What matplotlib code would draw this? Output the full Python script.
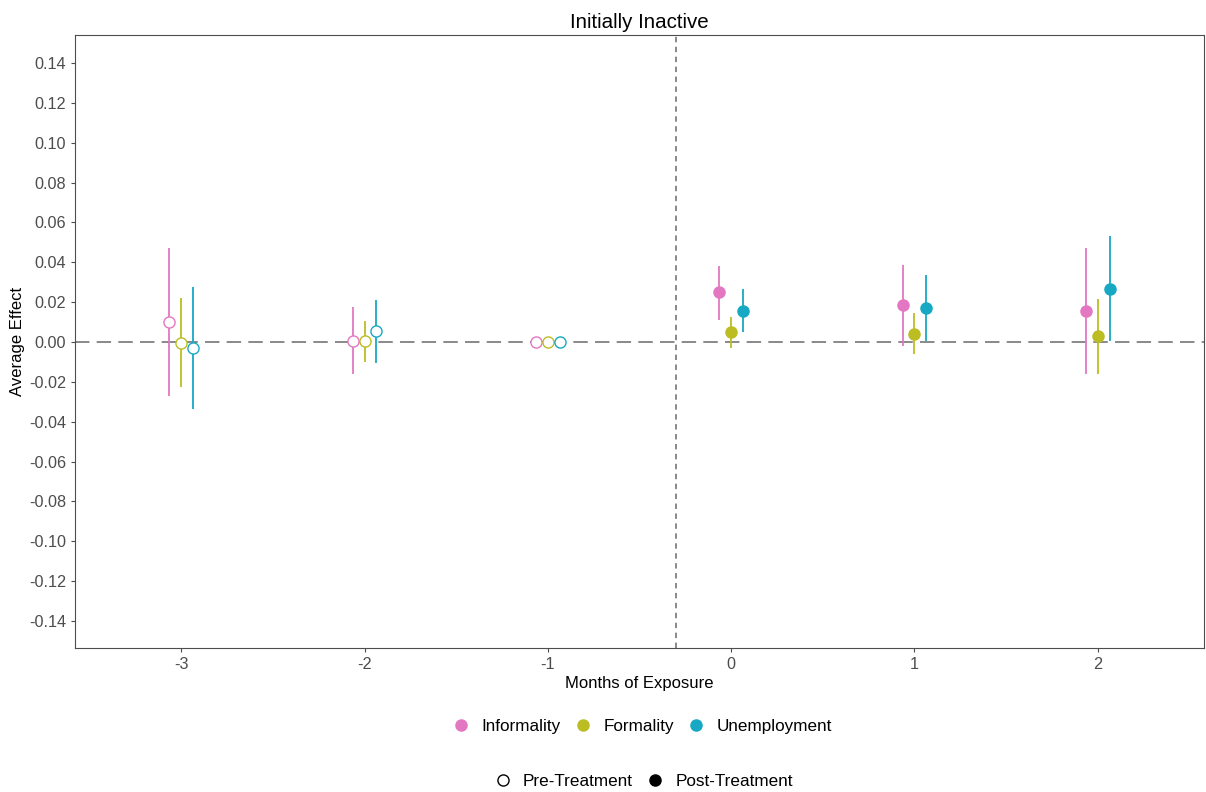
import matplotlib
matplotlib.use("Agg")
import matplotlib.pyplot as plt
from matplotlib.lines import Line2D
from matplotlib.ticker import FuncFormatter

plt.rcParams['font.family'] = ['Liberation Sans', 'DejaVu Sans']

months = [-3, -2, -1, 0, 1, 2]
outcomes = ["Informality", "Formality", "Unemployment"]
colors = {"Informality": "#e377c2", "Formality": "#bcbd22", "Unemployment": "#17a9c4"}
dodge = {"Informality": -0.065, "Formality": 0.0, "Unemployment": 0.065}

est = {
    "Informality":  [0.0100, 0.0007, 0.0, 0.0249, 0.0184, 0.0156],
    "Formality":    [-0.0003, 0.0003, 0.0, 0.0049, 0.0042, 0.0029],
    "Unemployment": [-0.0030, 0.0054, 0.0, 0.0157, 0.0169, 0.0267],
}
lo = {
    "Informality":  [-0.0271, -0.0160, 0.0, 0.0112, -0.0018, -0.0162],
    "Formality":    [-0.0226, -0.0102, 0.0, -0.0032, -0.0062, -0.0162],
    "Unemployment": [-0.0336, -0.0104, 0.0, 0.0049, 0.0005, 0.0005],
}
hi = {
    "Informality":  [0.0472, 0.0174, 0.0, 0.0383, 0.0386, 0.0470],
    "Formality":    [0.0220, 0.0107, 0.0, 0.0125, 0.0146, 0.0216],
    "Unemployment": [0.0276, 0.0211, 0.0, 0.0266, 0.0336, 0.0532],
}

fig = plt.figure(figsize=(12.06, 7.92), dpi=100)
ax = fig.add_axes([75/1206, 1-648/792, (1204-75)/1206, (648-35)/792])

ax.axhline(0, color="#808080", lw=1.3, ls=(0, (8, 4)), zorder=1)
ax.axvline(-0.3, color="#808080", lw=1.3, ls=(0, (3, 2.5)), zorder=1)

for o in outcomes:
    c = colors[o]
    for i, m in enumerate(months):
        x = m + dodge[o]
        ax.vlines(x, lo[o][i], hi[o][i], color=c, lw=1.3, zorder=2)
        if m < 0:
            ax.plot(x, est[o][i], "o", ms=8, mfc="white", mec=c, mew=1.0, zorder=3)
        else:
            ax.plot(x, est[o][i], "o", ms=8, mfc=c, mec=c, zorder=3)

ax.set_xlim(-3.58, 2.58)
ax.set_ylim(-0.1535, 0.154)
ax.set_xticks(months)
ax.set_xticklabels([str(m) for m in months])
ax.set_yticks([round(-0.14 + 0.02*k, 2) for k in range(15)])
ax.yaxis.set_major_formatter(FuncFormatter(lambda v, p: f"{v:.2f}" if abs(v) > 1e-9 else "0.00"))
ax.tick_params(colors="#4d4d4d", labelsize=11.7, length=3, width=0.8)
for s in ax.spines.values():
    s.set_color("#4d4d4d")
    s.set_linewidth(0.8)
ax.set_xlabel("Months of Exposure", fontsize=12, labelpad=3)
ax.set_ylabel("Average Effect", fontsize=12, labelpad=3)
ax.set_title("Initially Inactive", fontsize=14.8, pad=5)

h1 = [Line2D([], [], ls="", marker="o", ms=8, mfc=colors[o], mec=colors[o], label=o) for o in outcomes]
fig.legend(handles=h1, loc="center", bbox_to_anchor=(0.532, 1-726/792), ncol=3, frameon=False,
           fontsize=12.3, handletextpad=0.6, columnspacing=0.7, handlelength=1.2)
h2 = [Line2D([], [], ls="", marker="o", ms=8, mfc="white", mec="black", label="Pre-Treatment"),
      Line2D([], [], ls="", marker="o", ms=8, mfc="black", mec="black", label="Post-Treatment")]
fig.legend(handles=h2, loc="center", bbox_to_anchor=(0.533, 1-781/792), ncol=2, frameon=False,
           fontsize=12.3, handletextpad=0.6, columnspacing=0.7, handlelength=1.2)

fig.savefig("out.png", dpi=100)
